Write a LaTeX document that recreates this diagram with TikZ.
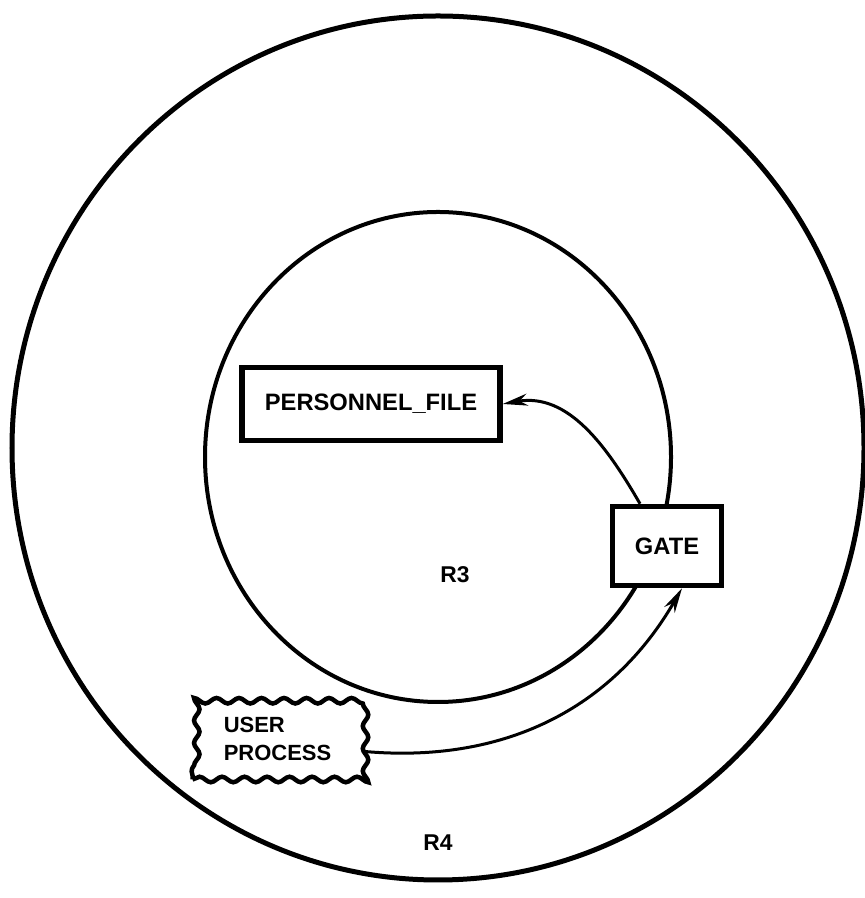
\documentclass[tikz,border=0pt]{standalone}
\usepackage{fontspec}
\setmainfont{Liberation Sans}
\usetikzlibrary{arrows.meta, positioning, calc, decorations.pathmorphing}
\tikzset{
	ring/.style={line width=1mm},
	filebox/.style={rectangle, draw, line width=1.1mm, fill=white, minimum width=5.16cm, minimum height=1.46cm, font=\fontsize{13.5}{16}\selectfont\bfseries},
	gatebox/.style={rectangle, draw, line width=1.1mm, fill=white, minimum width=2.18cm, minimum height=1.58cm, font=\fontsize{13.5}{16}\selectfont\bfseries},
	procbox/.style={draw, line width=0.9mm, fill=white, decorate, decoration={snake, amplitude=0.55mm, segment length=4.5mm}, minimum width=3.4cm, minimum height=1.62cm, inner sep=1mm, align=left, font=\fontsize{12.5}{16}\selectfont\bfseries},
	flow/.style={line width=0.6mm, -{Stealth[length=5mm, width=2.4mm]}},
	region/.style={font=\fontsize{13}{15}\selectfont\bfseries}
}
\begin{document}
\begin{tikzpicture}
		\useasboundingbox (0,0) rectangle (17.3,17.96);
		% Anillos
		\draw [ring] (8.76,9.0) ellipse [x radius=8.52, y radius=8.64];
		\draw [line width=0.8mm] (8.76,8.82) ellipse [x radius=4.66, y radius=4.9];
		
		% Nodos
		\node [filebox] (file) at (7.42,9.88) {PERSONNEL\_FILE};
		\node [gatebox] (gate) at (13.34,7.04) {GATE};
		\node [procbox] (user) at (5.55,3.18) {USER\\PROCESS};
		
		% Regiones
		\node [region] (r3) at (9.1,6.46) {R3};
		\node [region] (r4) at (8.76,1.1) {R4};
		
		% Llamadas
		\draw [flow] ($(user.east)+(0,-0.25)$) to [out=-5, in=-120] ($(gate.south)+(0.3,0)$);
		\draw [flow] ($(gate.north)+(-0.54,0)$) to [out=120, in=10] (file.east);
	\end{tikzpicture}
\end{document}
